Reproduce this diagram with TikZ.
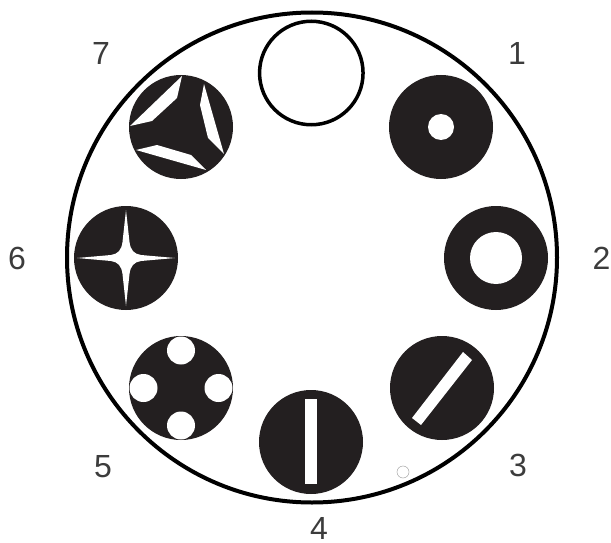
\documentclass[tikz,border=0pt]{standalone}
\usepackage{fontspec}
\setmainfont{Liberation Sans}
\usepackage{tikz}
\usetikzlibrary{positioning, calc}
\definecolor{diskfill}{RGB}{35,31,32}
\definecolor{numgray}{RGB}{60,60,60}

\begin{document}
\begin{tikzpicture}[
    x=1pt, y=-1pt,
    disk/.style = {circle, fill=diskfill, inner sep=0pt, minimum size=104pt},
    hole/.style = {circle, fill=white, inner sep=0pt, minimum size=#1},
    slit/.style = {fill=white, draw=none},
    num/.style = {font=\fontsize{32}{32}\selectfont, text=numgray, inner sep=0pt},
  ]
    \useasboundingbox (0,0) rectangle (611,543);

    % Wheel and the open position
    \node[circle, draw=black, line width=4pt, inner sep=0pt, minimum size=490pt] (wheel) at (312,257.5) {};
    \node[circle, draw=black, line width=3.5pt, fill=white, inner sep=0pt, minimum size=103.5pt] (open) at (311.3,73) {};

    % Disks
    \node[disk] (d1) at (441,127) {};
    \node[disk] (d2) at (496,258) {};
    \node[disk] (d3) at (442,388) {};
    \node[disk] (d4) at (311,442) {};
    \node[disk] (d5) at (181,388) {};
    \node[disk] (d6) at (126,258) {};
    \node[disk] (d7) at (181,127) {};

    % Round holes
    \node[hole=26pt] (h1) at (d1) {};
    \node[hole=52pt] (h2) at (d2) {};
    \foreach \dx/\dy [count=\i] in {0/-37.5, 37.5/0, 0/37.5, -37.5/0}
      \node[hole=28pt] (h5\i) at ($(d5)+(\dx,\dy)$) {};

    % Slits
    \fill[slit] ($(d3)+(21,-36)$) -- ($(d3)+(30,-28)$) -- ($(d3)+(-21,37)$) -- ($(d3)+(-30,30)$) -- cycle;
    \fill[slit] ($(d4)+(-5.7,-43)$) rectangle ($(d4)+(5.7,42)$);

    % Star
    \fill[slit, shift={(d6)}] (0,-48) -- (3.5,-16)
      .. controls (4.5,-8) and (8,-4) .. (15,-3) -- (49,0) -- (15,3)
      .. controls (8,4) and (4.5,8) .. (3.5,16) -- (0,48) -- (-3.5,16)
      .. controls (-4.5,8) and (-8,4) .. (-15,3) -- (-49,0) -- (-15,-3)
      .. controls (-8,-4) and (-4.5,-8) .. (-3.5,-16) -- cycle;

    % Three blades
    \fill[slit] ($(d7)+(1,-51)$) -- ($(d7)+(-4,-29)$) -- ($(d7)+(-29,-6)$) -- ($(d7)+(-51,-1)$) -- cycle;
    \fill[slit] ($(d7)+(23,-43)$) -- ($(d7)+(19,-22)$) -- ($(d7)+(27,11)$) -- ($(d7)+(43,27)$) -- cycle;
    \fill[slit] ($(d7)+(-45,23)$) -- ($(d7)+(-24,18)$) -- ($(d7)+(10,28)$) -- ($(d7)+(25,43)$) -- cycle;

    % Small mark
    \node[circle, draw=gray!70, line width=0.5pt, inner sep=0pt, minimum size=12pt] (mark) at (403,472) {};

    % Numbers
    \node[num] (n1) at (517,53) {1};
    \node[num] (n2) at (601.5,258) {2};
    \node[num] (n3) at (518,465) {3};
    \node[num] (n4) at (319,528) {4};
    \node[num] (n5) at (103,467) {5};
    \node[num] (n6) at (17,258) {6};
    \node[num] (n7) at (101,53) {7};
  \end{tikzpicture}
\end{document}
